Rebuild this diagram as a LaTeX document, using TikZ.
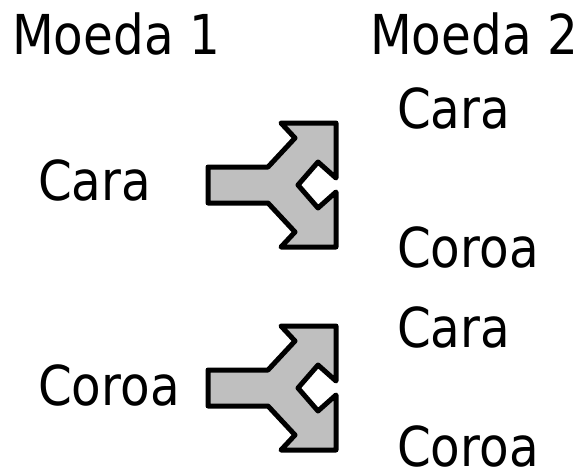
\documentclass[tikz,border=0pt]{standalone}
\usepackage{fontspec}
\setmainfont{DejaVu Sans}[FakeStretch=0.88]
\definecolor{arrowfill}{HTML}{BFBFBF}
\tikzset{
  lbl/.style={anchor=base west, inner sep=0pt, font=\fontsize{55}{60}\selectfont},
  fork/.style={draw=black, fill=arrowfill, line width=5pt, line join=round}
}
\begin{document}
\begin{tikzpicture}[x=1pt,y=-1pt]
\useasboundingbox (0,0) rectangle (578,474);
\node[lbl] (m1) at (12,54) {Moeda 1};
\node[lbl] (m2) at (370,54) {Moeda 2};
\node[lbl] (c1) at (38,200) {Cara};
\node[lbl] (c2) at (38,405) {Coroa};
\node[lbl] (r1) at (397,128) {Cara};
\node[lbl] (r2) at (397,267) {Coroa};
\node[lbl] (r3) at (397,347) {Cara};
\node[lbl] (r4) at (397,466) {Coroa};
\foreach \dy in {0,203}{
\begin{scope}[yshift=-\dy pt]
\draw[fork] (208,167) -- (268,167) -- (295,138) -- (281,123) -- (336,123) -- (336,178)
  -- (318,162) -- (298,185) -- (318,208) -- (336,192) -- (336,247) -- (281,247)
  -- (295,232) -- (268,203) -- (208,203) -- cycle;
\end{scope}
}
\end{tikzpicture}
\end{document}
